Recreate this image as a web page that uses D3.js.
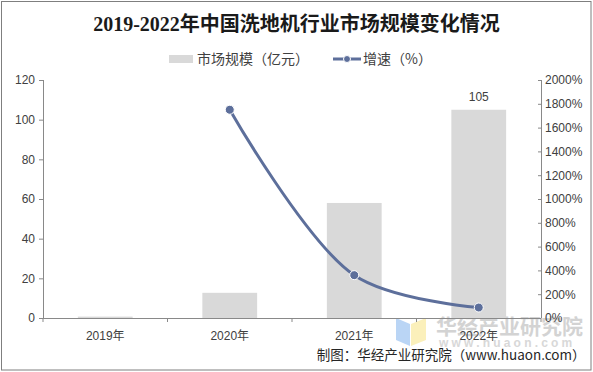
<!DOCTYPE html>
<html><head><meta charset="utf-8">
<script src="https://cdn.jsdelivr.net/npm/d3@7"></script>
<style>
html,body{margin:0;padding:0;background:#fff;}
svg{display:block;}
text{font-family:"Liberation Sans","Noto Sans CJK SC",sans-serif;}
</style></head>
<body>
<svg id="chart" width="593" height="372"></svg>
<script>
const titleText = "2019-2022年中国洗地机行业市场规模变化情况";
const categories = ["2019年","2020年","2021年","2022年"];
const marketSize = [0.7, 12.7, 58, 105];           // 亿元
const growthYears = ["2020年","2021年","2022年"];
const growthRate = [1750, 360, 88];                  // %
const leftTicks = [0,20,40,60,80,100,120];
const rightTicks = [0,200,400,600,800,1000,1200,1400,1600,1800,2000];
const legendLabels = ["市场规模（亿元）","增速（%）"];
const sourceText = "制图：华经产业研究院（www.huaon.com）";

const svg = d3.select("#chart");
const W = 593, H = 372;
const m = {left:43, right:541, top:80, bottom:318};

// outer border
svg.append("rect").attr("x",1.5).attr("y",1.5).attr("width",W-3.5).attr("height",H-3.5)
  .attr("fill","#fff").attr("stroke","#7f7f7f").attr("stroke-width",1);

// watermark
const wm = svg.append("g").attr("opacity",0.9);
wm.append("path").attr("d","M396,318 L410,324 L410,346 L396,340 Z").attr("fill","#b3d1f5");
wm.append("path").attr("d","M411,324 L426,318 L426,340 L411,346 Z").attr("fill","#fbefb4");
wm.append("text").attr("x",436).attr("y",334).attr("font-size",21).attr("font-weight","bold")
  .attr("fill","#cfcfcf").style("font-family","'Noto Sans CJK SC',sans-serif").text("华经产业研究院");
wm.append("text").attr("x",439).attr("y",347).attr("font-size",12).attr("font-weight","bold")
  .attr("fill","#d4d4d4").attr("letter-spacing",3.2).text("www.huaon.com");

const x = d3.scaleBand().domain(categories).range([m.left,m.right]).padding(0);
const yL = d3.scaleLinear().domain([0,120]).range([m.bottom,m.top]);
const yR = d3.scaleLinear().domain([0,2000]).range([m.bottom,m.top]);
const barW = x.bandwidth()*0.44;

// bars
svg.append("g").selectAll("rect").data(categories).join("rect")
  .attr("x",d=>x(d)+(x.bandwidth()-barW)/2)
  .attr("width",barW)
  .attr("y",(d,i)=>yL(marketSize[i]))
  .attr("height",(d,i)=>yL(0)-yL(marketSize[i]))
  .attr("fill","#d9d9d9");

// value label for last bar
svg.append("text").attr("x",x(categories[3])+x.bandwidth()/2).attr("y",yL(marketSize[3])-9)
  .attr("text-anchor","middle").attr("font-size",12).attr("fill","#404040").text(marketSize[3]);

const axisColor = "#898989";
// left axis
const gL = svg.append("g").attr("transform",`translate(${m.left},0)`)
  .call(d3.axisLeft(yL).tickValues(leftTicks).tickSize(4).tickPadding(4));
// right axis
const gR = svg.append("g").attr("transform",`translate(${m.right},0)`)
  .call(d3.axisRight(yR).tickValues(rightTicks).tickSize(-3).tickPadding(4).tickFormat(d=>d+"%"));
// bottom axis
const gB = svg.append("g").attr("transform",`translate(0,${m.bottom})`)
  .call(d3.axisBottom(x).tickSize(0).tickPadding(13));
const bounds = categories.map(c=>x(c)).concat([m.right]);
gB.selectAll("line.bound").data(bounds).join("line").attr("class","bound")
  .attr("x1",d=>d).attr("x2",d=>d).attr("y1",0).attr("y2",4).attr("stroke",axisColor);

[gL,gR,gB].forEach(g=>{
  g.select(".domain").attr("stroke",axisColor);
  g.selectAll(".tick line").attr("stroke",axisColor);
  g.selectAll("text").attr("font-size",12).attr("fill","#404040")
    .style("font-family","'Liberation Sans','Noto Sans CJK SC',sans-serif");
});
gB.select(".domain").attr("d",`M${m.left},0.5H${m.right}`);
gL.select(".domain").attr("d",`M0.5,${m.top}V${m.bottom}`);
gR.select(".domain").attr("d",`M0.5,${m.top}V${m.bottom}`);

// line
const lineColor = "#5d6f9b";
const pts = growthYears.map((c,i)=>[x(c)+x.bandwidth()/2, yR(growthRate[i])]);
svg.append("path").attr("d",d3.line().curve(d3.curveCatmullRom.alpha(0.5))(pts))
  .attr("fill","none").attr("stroke",lineColor).attr("stroke-width",3).attr("stroke-linecap","round");
svg.append("g").selectAll("circle").data(pts).join("circle")
  .attr("cx",d=>d[0]).attr("cy",d=>d[1]).attr("r",4.5)
  .attr("fill",lineColor).attr("stroke","#fff").attr("stroke-width",1);

// title
svg.append("text").attr("x",W/2).attr("y",31).attr("text-anchor","middle")
  .attr("font-size",20).attr("font-weight","bold").attr("fill","#1a1a1a")
  .style("font-family","'Liberation Serif','Noto Sans CJK SC',serif").text(titleText);

// legend
const lg = svg.append("g");
lg.append("rect").attr("x",169).attr("y",55).attr("width",24).attr("height",8).attr("fill","#d9d9d9");
lg.append("text").attr("x",197).attr("y",64).attr("font-size",14).attr("fill","#404040")
  .style("font-family","'Noto Sans CJK SC',sans-serif").text(legendLabels[0]);
lg.append("line").attr("x1",333).attr("x2",361).attr("y1",59).attr("y2",59)
  .attr("stroke",lineColor).attr("stroke-width",3);
lg.append("circle").attr("cx",347).attr("cy",59).attr("r",3.5).attr("fill",lineColor).attr("stroke","#fff").attr("stroke-width",1);
lg.append("text").attr("x",363).attr("y",64).attr("font-size",14).attr("fill","#404040")
  .style("font-family","'Noto Sans CJK SC',sans-serif").text(legendLabels[1]);

// source
svg.append("text").attr("x",585.5).attr("y",360).attr("text-anchor","end")
  .attr("font-size",13.5).attr("fill","#262626")
  .style("font-family","'Noto Sans CJK SC',sans-serif").text(sourceText);
</script>
</body></html>
